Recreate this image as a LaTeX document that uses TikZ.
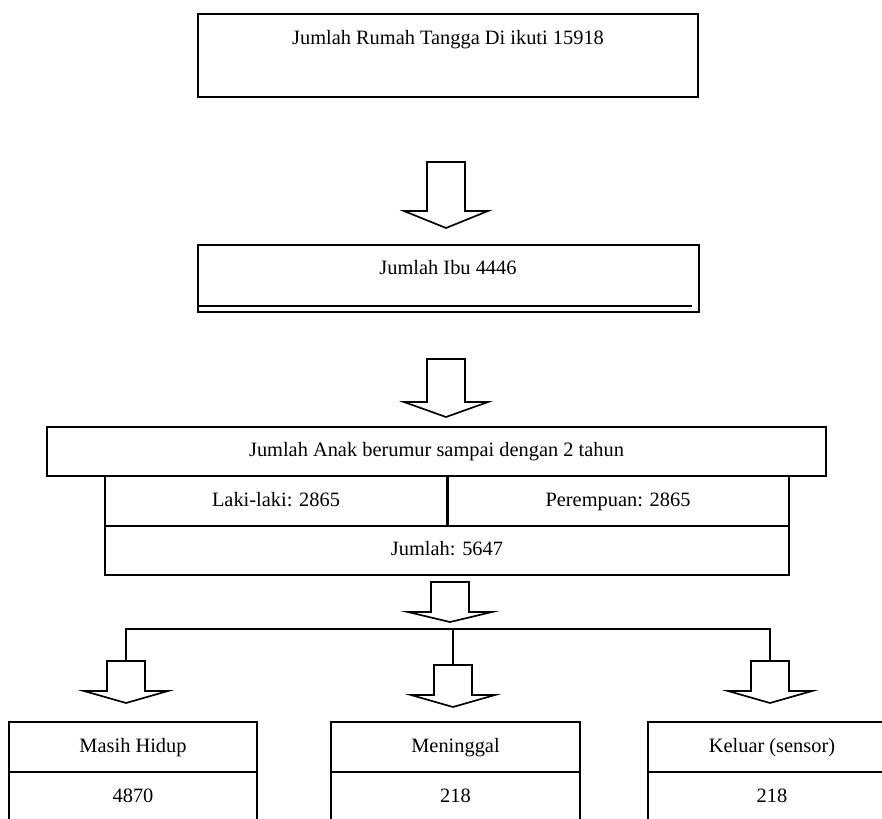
\documentclass[tikz,border=0pt]{standalone}
\usepackage{fontspec}
\setmainfont{Liberation Serif}
\usetikzlibrary{positioning}

\begin{document}
\begin{tikzpicture}[x=0.025cm, y=-0.025cm, font=\fontsize{14.5}{17}\selectfont,
  box/.style={draw, line width=1.4pt, inner sep=0pt, outer sep=0pt, text height=10.5pt, text depth=3pt},
  lbl/.style={inner sep=0pt, text height=10.5pt, text depth=3pt},
  link/.style={line width=1.5pt},
  pics/blkarrow/.style n args={2}{code={
    \draw[line width=1.2pt] (-19,0) -- (-19,#1) -- (-42,#1) -- (0,#2) -- (42,#1) -- (19,#1) -- (19,0) -- cycle;
    \coordinate (-top) at (0,0);
    \coordinate (-tip) at (0,#2);}}]
\useasboundingbox (0,0) rectangle (882,818);
\clip (0,0) rectangle (882,818);

%nodes
\node[box, minimum width=12.5cm, minimum height=2.075cm] (rumah) at (448,55.5) {};
\node[lbl] (rumahT) at (448,39) {Jumlah Rumah Tangga Di ikuti 15918};

\pic (a1) at (446,162) {blkarrow={49}{66}};

\node[box, minimum width=12.525cm, minimum height=1.675cm] (ibu) at (448.5,278.5) {};
\node[lbl] (ibuT) at (448,269) {Jumlah Ibu 4446};
\draw[line width=1.4pt] ([yshift=0.15cm]ibu.south west) -- ([xshift=-0.175cm,yshift=0.15cm]ibu.south east);

\pic (a2) at (446,359) {blkarrow={43}{58}};

\node[box, minimum width=19.475cm, minimum height=1.225cm] (anak) at (436.5,451.5) {Jumlah Anak berumur sampai dengan 2 tahun};
\node[box, minimum width=8.55cm, minimum height=1.25cm] (laki) at (276,501) {Laki-laki: 2865};
\node[box, minimum width=8.55cm, minimum height=1.25cm] (perem) at (618,501) {Perempuan: 2865};
\node[box, minimum width=17.1cm, minimum height=1.225cm] (total) at (447,550.5) {Jumlah: 5647};
\draw[line width=2.2pt] (laki.north east) -- (laki.south east);

\pic (a3) at (450,582) {blkarrow={30}{40}};

\coordinate (busL) at (126,629);
\coordinate (busR) at (770,629);
\pic (aL) at (126,661) {blkarrow={30}{42}};
\pic (aM) at (453,665) {blkarrow={30}{42}};
\pic (aR) at (770,661) {blkarrow={30}{42}};

\node[box, minimum width=6.2cm, minimum height=1.25cm] (hidup) at (133,747) {Masih Hidup};
\node[box, minimum width=6.2cm, minimum height=1.25cm, below=0pt of hidup] (hidupN) {4870};
\node[box, minimum width=6.2cm, minimum height=1.25cm] (mati) at (455.5,747) {Meninggal};
\node[box, minimum width=6.2cm, minimum height=1.25cm, below=0pt of mati] (matiN) {218};
\node[box, minimum width=6.2cm, minimum height=1.25cm] (keluar) at (772,747) {Keluar (sensor)};
\node[box, minimum width=6.2cm, minimum height=1.25cm, below=0pt of keluar] (keluarN) {218};

%links
\draw[link] (aL-top) -- (busL) -- (busR) -- (aR-top);
\draw[link] (aM-top) -- (aM-top |- busL);
\end{tikzpicture}
\end{document}
